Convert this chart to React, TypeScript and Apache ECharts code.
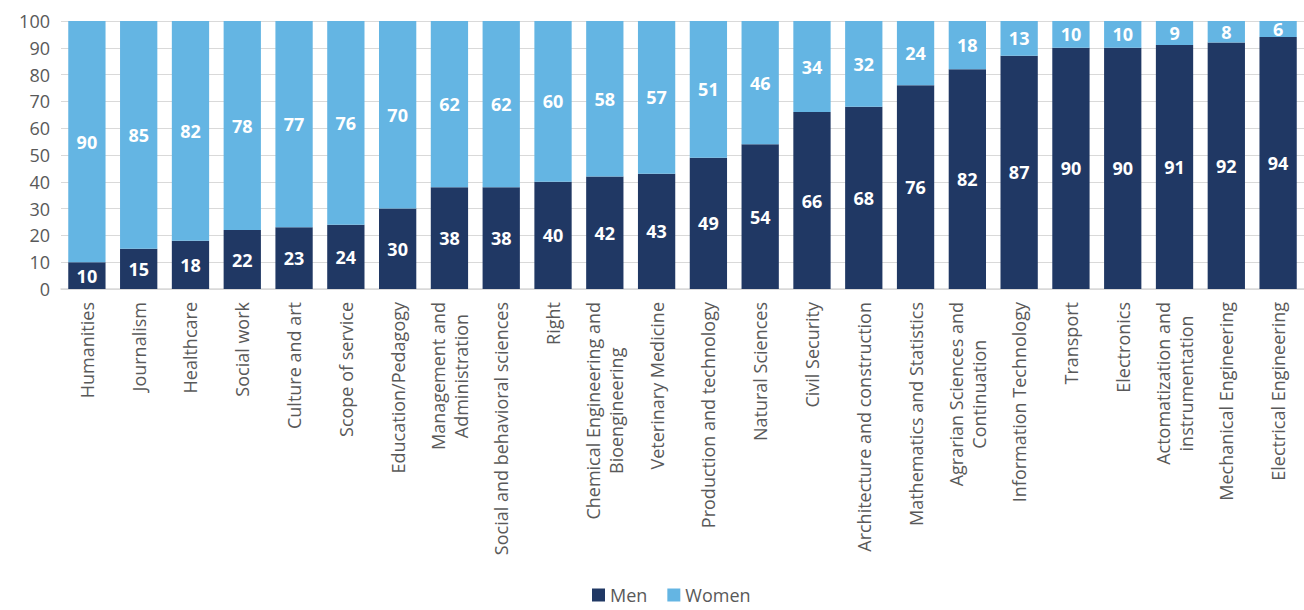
import React, { useEffect, useRef } from "react";
import * as echarts from "echarts";

const categories: string[] = [
  "Humanities",
  "Journalism",
  "Healthcare",
  "Social work",
  "Culture and art",
  "Scope of service",
  "Education/Pedagogy",
  "Management and\nAdministration",
  "Social and behavioral sciences",
  "Right",
  "Chemical Engineering and\nBioengineering",
  "Veterinary Medicine",
  "Production and technology",
  "Natural Sciences",
  "Civil Security",
  "Architecture and construction",
  "Mathematics and Statistics",
  "Agrarian Sciences and\nContinuation",
  "Information Technology",
  "Transport",
  "Electronics",
  "Actomatization and\ninstrumentation",
  "Mechanical Engineering",
  "Electrical Engineering",
];

const men: number[] = [10, 15, 18, 22, 23, 24, 30, 38, 38, 40, 42, 43, 49, 54, 66, 68, 76, 82, 87, 90, 90, 91, 92, 94];
const women: number[] = [90, 85, 82, 78, 77, 76, 70, 62, 62, 60, 58, 57, 51, 46, 34, 32, 24, 18, 13, 10, 10, 9, 8, 6];

const yTicks = { min: 0, max: 100, interval: 10 };

const FONT = "'Open Sans', 'Noto Sans', sans-serif";
const GREY = "#595959";

export default function App() {
  const ref = useRef<HTMLDivElement>(null);
  useEffect(() => {
    if (!ref.current) return;
    const chart = echarts.init(ref.current, undefined, { renderer: "svg" });
    const labelStyle = {
      show: true,
      position: "inside" as const,
      color: "#ffffff",
      fontWeight: "bold" as const,
      fontSize: 18,
      fontFamily: FONT,
    };
    chart.setOption({
      animation: false,
      textStyle: { fontFamily: FONT },
      grid: { left: 61, right: -12, top: 21, bottom: 321, containLabel: false },
      legend: {
        data: ["Men", "Women"],
        left: 592,
        top: 585,
        padding: 0,
        icon: "rect",
        itemWidth: 13,
        itemHeight: 13,
        itemGap: 20,
        textStyle: { color: GREY, fontSize: 18, lineHeight: 20, fontFamily: FONT },
      },
      xAxis: {
        type: "category",
        data: categories,
        axisTick: { show: false },
        axisLine: { show: true, lineStyle: { color: "#d9d9d9", width: 1.5 } },
        axisLabel: {
          rotate: 90,
          interval: 0,
          margin: 13,
          color: GREY,
          fontSize: 18,
          lineHeight: 23,
          fontFamily: FONT,
          formatter: (v: string) =>
            v.includes("\n") ? v.split("\n").map((s) => `{c|${s}}`).join("\n") : v,
          rich: {
            c: { align: "center", color: GREY, fontSize: 18, lineHeight: 23, fontFamily: FONT },
          },
        },
      },
      yAxis: {
        type: "value",
        min: yTicks.min,
        max: yTicks.max,
        interval: yTicks.interval,
        axisLine: { show: false },
        axisTick: { show: false },
        axisLabel: { color: GREY, fontSize: 18, margin: 11, fontFamily: FONT },
        splitLine: { lineStyle: { color: "#d9d9d9", width: 1.2 } },
      },
      series: [
        {
          name: "Men",
          type: "bar",
          stack: "total",
          data: men,
          barCategoryGap: "28%",
          itemStyle: { color: "#203864" },
          label: labelStyle,
        },
        {
          name: "Women",
          type: "bar",
          stack: "total",
          data: women,
          barCategoryGap: "28%",
          itemStyle: { color: "#64b5e3" },
          label: labelStyle,
        },
      ],
    });
    return () => chart.dispose();
  }, []);
  return (
    <div
      ref={ref}
      style={{ position: "absolute", left: 0, top: 0, width: 1304, height: 610, overflow: "hidden" }}
    />
  );
}
